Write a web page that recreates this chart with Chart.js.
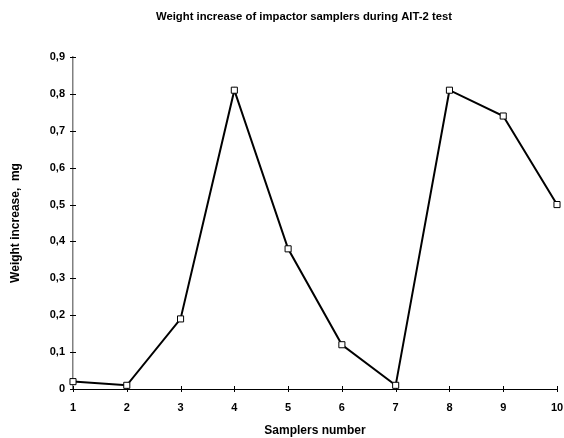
<!DOCTYPE html>
<html>
<head>
<meta charset="utf-8">
<script src="https://cdn.jsdelivr.net/npm/chart.js@4.4.1/dist/chart.umd.min.js"></script>
<style>
  html, body { margin: 0; padding: 0; background: #fff; }
  #wrap { width: 564px; height: 438px; }
</style>
</head>
<body>
<div id="wrap"><canvas id="c" width="564" height="438"></canvas></div>
<script>
// sampler numbers and measured weight gain (mg)
const samplers = [1, 2, 3, 4, 5, 6, 7, 8, 9, 10];
const weightGain = [0.02, 0.01, 0.19, 0.81, 0.38, 0.12, 0.01, 0.81, 0.74, 0.50];
const yTicks = [0, 0.1, 0.2, 0.3, 0.4, 0.5, 0.6, 0.7, 0.8, 0.9];

const chartTitle = "Weight increase of impactor samplers during AIT-2 test";
const FONT = "'Liberation Sans', Arial, Helvetica, sans-serif";

const fmtComma = (v) => (v === 0 ? "0" : Number(v).toFixed(1).replace(".", ","));

// short tick marks that cross the axis lines, plus the heading
const axisDecor = {
  id: "axisDecor",
  beforeDatasetsDraw(chart) {
    const { ctx, chartArea: a, scales: { x, y } } = chart;
    ctx.save();
    ctx.strokeStyle = "#000";
    ctx.lineWidth = 1;
    ctx.beginPath();
    yTicks.forEach((v) => {
      const py = Math.round(y.getPixelForValue(v)) + 0.5;
      ctx.moveTo(a.left - 3, py); ctx.lineTo(a.left + 3, py);
    });
    samplers.forEach((v) => {
      const px = Math.round(x.getPixelForValue(v)) + 0.5;
      ctx.moveTo(px, a.bottom - 3); ctx.lineTo(px, a.bottom + 3);
    });
    ctx.stroke();
    ctx.restore();
  },
  afterDraw(chart) {
    const { ctx, chartArea: a } = chart;
    ctx.save();
    ctx.fillStyle = "#000";
    ctx.font = "bold 11.3px " + FONT;
    ctx.textAlign = "center";
    ctx.textBaseline = "middle";
    ctx.fillText(chartTitle, (a.left + a.right) / 2 - 11, 17);
    ctx.restore();
  }
};

new Chart(document.getElementById("c"), {
  type: "line",
  data: {
    datasets: [{
      data: samplers.map((s, i) => ({ x: s, y: weightGain[i] })),
      borderColor: "#000",
      borderWidth: 2,
      tension: 0,
      pointStyle: "rect",
      pointRadius: 4.3,
      pointBorderWidth: 1,
      pointBorderColor: "#000",
      pointBackgroundColor: "#fff",
      clip: false
    }]
  },
  options: {
    responsive: false,
    animation: false,
    events: [],
    layout: { padding: { top: 57, right: 7, left: 0, bottom: 0 } },
    plugins: { legend: { display: false }, tooltip: { enabled: false }, title: { display: false } },
    scales: {
      x: {
        type: "linear", min: 1, max: 10,
        afterFit: (s) => { s.height = 49; s.paddingLeft = 0; s.paddingRight = 0; },
        afterBuildTicks: (s) => { s.ticks = samplers.map((v) => ({ value: v })); },
        grid: { display: false, tickLength: 0 },
        border: { display: true, color: "#000", width: 1 },
        ticks: { color: "#000", padding: 12, maxRotation: 0, autoSkip: false,
          font: { family: FONT, size: 11, weight: "bold" }, callback: (v) => String(v) },
        title: { display: true, text: "Samplers number", color: "#000", padding: { top: 0, bottom: 0 },
          font: { family: FONT, size: 12, weight: "bold" } }
      },
      y: {
        min: 0, max: 0.9,
        afterFit: (s) => { s.width = 73; s.paddingTop = 0; s.paddingBottom = 0; },
        afterBuildTicks: (s) => { s.ticks = yTicks.map((v) => ({ value: v })); },
        grid: { display: false, tickLength: 0 },
        border: { display: true, color: "#808080", width: 1.5 },
        ticks: { color: "#000", padding: 8, autoSkip: false,
          font: { family: FONT, size: 11, weight: "bold" }, callback: fmtComma },
        title: { display: true, text: "Weight increase,  mg", color: "#000", padding: { top: 8, bottom: 0 },
          font: { family: FONT, size: 12, weight: "bold" } }
      }
    }
  },
  plugins: [axisDecor]
});
</script>
</body>
</html>
